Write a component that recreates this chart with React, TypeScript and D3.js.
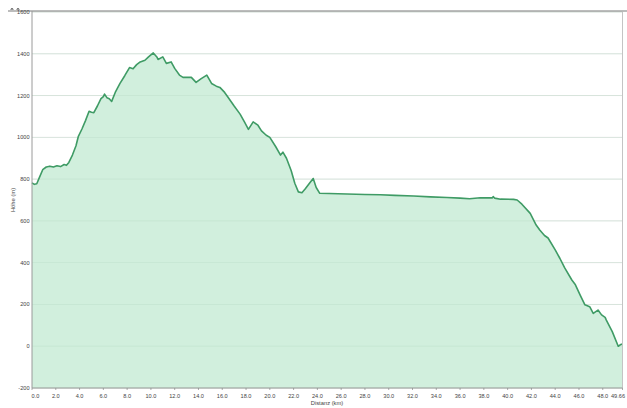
import React from "react";
import * as d3 from "d3";

const distances: number[] = [
  0.0, 0.2, 0.4, 0.6, 0.9, 1.2, 1.5, 1.8, 2.1, 2.4, 2.7, 2.9, 3.1, 3.4, 3.7, 3.9,
  4.2, 4.5, 4.8, 5.0, 5.2, 5.5, 5.8, 6.0, 6.1, 6.3, 6.5, 6.7, 7.0, 7.4, 7.8, 8.2,
  8.5, 8.8, 9.1, 9.5, 9.8, 10.2, 10.5, 10.6, 11.0, 11.3, 11.7, 12.0, 12.4, 12.7,
  13.4, 13.8, 14.2, 14.7, 15.1, 15.5, 15.8, 16.2, 16.5, 17.0, 17.5, 17.9, 18.2,
  18.6, 19.0, 19.3, 19.7, 20.0, 20.5, 20.9, 21.1, 21.4, 21.8, 22.1, 22.4, 22.7,
  23.0, 23.4, 23.65, 23.9, 24.2, 25.0, 26.5, 28.0, 29.3, 30.5, 32.1, 33.5, 34.9,
  36.0, 36.8, 37.7, 38.7, 38.8, 38.9, 39.4, 40.5, 40.8, 41.2, 41.9, 42.4, 42.7,
  43.1, 43.4, 44.0, 44.4, 44.8, 45.4, 45.7, 46.1, 46.5, 46.9, 47.2, 47.6, 47.9,
  48.2, 48.3, 48.8, 49.3, 49.5, 49.66,
];

const elevations: number[] = [
  782, 775, 778, 805, 845, 858, 862, 858, 864, 860, 870, 866, 880, 915, 960, 1005,
  1040, 1080, 1125, 1120, 1118, 1150, 1185, 1195, 1207, 1190, 1185, 1172, 1215, 1258, 1295, 1334,
  1328, 1348, 1361, 1369, 1385, 1404, 1385, 1373, 1385, 1354, 1361, 1330, 1298, 1287,
  1287, 1263, 1280, 1298, 1258, 1245, 1239, 1215, 1191, 1150, 1111, 1070, 1038,
  1074, 1058, 1031, 1010, 1000, 955, 915, 929, 900, 840, 780, 739, 735,
  755, 785, 803, 760, 732, 731, 729, 726, 725, 722, 719, 715, 712,
  709, 706, 711, 710, 716, 709, 704, 703, 700, 680, 636, 580, 556,
  530, 518, 461, 420, 375, 317, 294, 245, 198, 189, 157, 173, 150,
  138, 125, 70, 0, 8, 10,
];

const xTicks: number[] = [0, 2, 4, 6, 8, 10, 12, 14, 16, 18, 20, 22, 24, 26, 28, 30, 32, 34, 36, 38, 40, 42, 44, 46, 48, 49.66];
const xTickLabels: string[] = xTicks.map((t, i) => (i === xTicks.length - 1 ? "49.66" : t.toFixed(1)));
const yTicks: number[] = [-200, 0, 200, 400, 600, 800, 1000, 1200, 1400, 1600];

const W = 627;
const H = 408;
const left = 32;
const right = 622.5;
const top = 12;
const bottom = 388;

export default function App() {
  const x = d3.scaleLinear().domain([0, 49.66]).range([left, right]);
  const y = d3.scaleLinear().domain([-200, 1600]).range([bottom, top]);
  const pts: [number, number][] = distances.map((d, i) => [d, elevations[i]]);
  const area = d3
    .area<[number, number]>()
    .x((p) => x(p[0]))
    .y0(bottom)
    .y1((p) => y(p[1]));
  const line = d3
    .line<[number, number]>()
    .x((p) => x(p[0]))
    .y((p) => y(p[1]));
  const font = "'Liberation Sans', Arial, sans-serif";
  const last = xTicks.length - 1;
  return (
    <svg
      width={W}
      height={H}
      style={{ position: "absolute", left: 0, top: 0, background: "#fff" }}
      fontFamily={font}
    >
      <rect x={0} y={0} width={W} height={H} fill="#fff" />
      {yTicks.map((t) => (
        <line key={"g" + t} x1={left} x2={right} y1={y(t)} y2={y(t)} stroke="#e2e2e2" strokeWidth={0.8} />
      ))}
      <path d={area(pts) || ""} fill="#cfeedb" fillOpacity={0.95} />
      {yTicks.map((t) => (
        <line key={"g2" + t} x1={left} x2={right} y1={y(t)} y2={y(t)} stroke="#b9dcc6" strokeWidth={0.6} opacity={0.6} />
      ))}
      <path d={line(pts) || ""} fill="none" stroke="#3f9b65" strokeWidth={1.6} strokeLinejoin="round" />
      <line x1={8} x2={W} y1={11} y2={11} stroke="#7a7a7a" strokeWidth={1.2} />
      <path d="M10,9.5 L12,8 L14,9.5 Z M16,9.5 L18,8 L20,9.5 Z" fill="#333" />
      <line x1={left} x2={left} y1={top - 1} y2={bottom} stroke="#9a9a9a" strokeWidth={1} />
      <line x1={right} x2={right} y1={top} y2={bottom} stroke="#c4c4c4" strokeWidth={1} />
      <line x1={left} x2={right} y1={bottom} y2={bottom} stroke="#9a9a9a" strokeWidth={1} />
      {yTicks.map((t) => (
        <text key={"yl" + t} x={29.5} y={y(t) + 2} fontSize={5.6} fill="#444" textAnchor="end">
          {t}
        </text>
      ))}
      {xTicks.map((t, i) => (
        <g key={"xt" + i}>
          <line x1={x(t)} x2={x(t)} y1={bottom} y2={bottom + 2} stroke="#888" strokeWidth={0.7} />
          <text
            x={i === 0 ? x(t) + 3.5 : i === last ? W - 2 : x(t)}
            y={398}
            fontSize={5.6}
            fill="#444"
            textAnchor={i === last ? "end" : "middle"}
          >
            {xTickLabels[i]}
          </text>
        </g>
      ))}
      <text x={327} y={405} fontSize={5.8} fill="#444" textAnchor="middle">
        Distanz  (km)
      </text>
      <text
        transform="translate(15,200) rotate(-90)"
        fontSize={5.8}
        fill="#444"
        textAnchor="middle"
      >
        Höhe  (m)
      </text>
    </svg>
  );
}
